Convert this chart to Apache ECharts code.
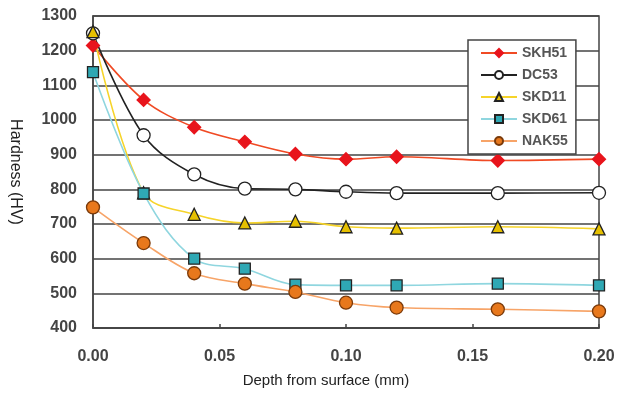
<!DOCTYPE html>
<html>
<head>
<meta charset="utf-8">
<script src="https://cdn.jsdelivr.net/npm/echarts@6/dist/echarts.min.js"></script>
<style>html,body{margin:0;padding:0;background:#fff;}#c{width:619px;height:398px;}</style>
</head>
<body>
<div id="c"></div>
<script>
var depths = [0, 0.02, 0.04, 0.06, 0.08, 0.10, 0.12, 0.16, 0.20];
var skh51 = [1215, 1058, 979, 937, 902, 887, 894, 883, 887];
var dc53  = [1250, 956, 843, 802, 800, 793, 789, 789, 790];
var skd11 = [1255, 790, 728, 703, 708, 692, 688, 692, 686];
var skd61 = [1138, 788, 600, 571, 525, 523, 523, 528, 523];
var nak55 = [748, 645, 558, 528, 504, 473, 459, 454, 448];
var xTicks = ['0.00', '0.05', '0.10', '0.15', '0.20'];
var yTicks = [400, 500, 600, 700, 800, 900, 1000, 1100, 1200, 1300];

function pairs(v){ return depths.map(function(d,i){ return [d, v[i]]; }); }

var FONT = '"Liberation Sans", Arial, sans-serif';
function series(name, data, lineColor, symbol, size, fill, border){
  return {
    name: name, type: 'line', data: pairs(data), smooth: 0.35,
    symbol: symbol, symbolSize: size,
    lineStyle: {color: lineColor, width: 1.6},
    itemStyle: {color: fill, borderColor: border, borderWidth: 1.3},
    emphasis: {disabled: true}
  };
}

var chart = echarts.init(document.getElementById('c'));
chart.setOption({
  animation: false,
  backgroundColor: '#fff',
  grid: {left: 93, top: 16, right: 20, bottom: 70, show: true, borderColor: '#444', borderWidth: 1.5,
    backgroundColor: 'transparent', containLabel: false, outerBoundsMode: 'none'},
  xAxis: {
    type: 'value', min: 0, max: 0.2, interval: 0.05,
    name: 'Depth from surface (mm)', nameLocation: 'middle', nameGap: 45,
    nameTextStyle: {fontFamily: FONT, fontSize: 15, color: '#222', padding: [0, 40, 0, 0]},
    axisLine: {show: true, lineStyle: {color: '#444', width: 1.5}},
    axisTick: {show: true, inside: true, length: 4, lineStyle: {color: '#444', width: 1.5}},
    splitLine: {show: false},
    axisLabel: {margin: 21, fontFamily: FONT, fontSize: 16, fontWeight: 'bold', color: '#444',
      formatter: function(v){ var i = Math.round(v/0.05); return xTicks[i]; }}
  },
  yAxis: {
    type: 'value', min: yTicks[0], max: yTicks[yTicks.length-1], interval: 100,
    name: 'Hardness (HV)', nameLocation: 'middle', nameGap: 70, nameRotate: -90,
    nameTextStyle: {fontFamily: FONT, fontSize: 16, color: '#222'},
    axisLine: {show: true, lineStyle: {color: '#444', width: 1.5}},
    axisTick: {show: false},
    splitLine: {show: true, lineStyle: {color: '#444', width: 1.5}},
    axisLabel: {margin: 16, fontFamily: FONT, fontSize: 16, fontWeight: 'bold', color: '#444',
      formatter: function(v){ return String(yTicks[Math.round((v - yTicks[0]) / 100)]); }}
  },
  legend: {
    orient: 'vertical', left: 468, top: 40, width: 111,
    padding: [6, 8, 6, 12], itemGap: 8, itemWidth: 36, itemHeight: 10,
    backgroundColor: '#fff', borderColor: '#444', borderWidth: 1.5,
    textStyle: {fontFamily: FONT, fontSize: 14, fontWeight: 'bold', color: '#555'},
    data: ['SKH51', 'DC53', 'SKD11', 'SKD61', 'NAK55']
  },
  series: [
    series('SKH51', skh51, '#f04a24', 'diamond', 13, '#e8141c', '#e8141c'),
    series('DC53', dc53, '#222', 'circle', 13, '#fff', '#222'),
    series('SKD11', skd11, '#f6d42a', 'triangle', 12, '#e6c000', '#222'),
    series('SKD61', skd61, '#8fd6df', 'rect', 11, '#2fa8b4', '#222'),
    series('NAK55', nak55, '#f7a468', 'circle', 13, '#e8781c', '#7a3a0a')
  ]
});
</script>
</body>
</html>
